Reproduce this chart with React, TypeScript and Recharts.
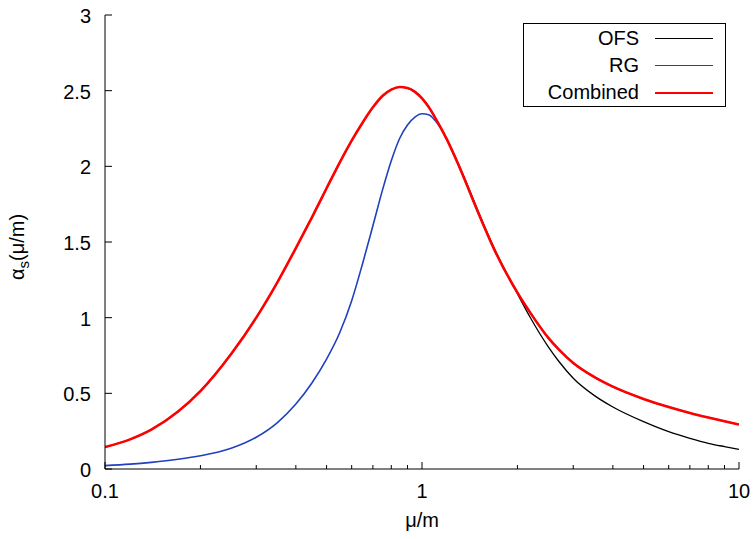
import { Line, LineChart, XAxis, YAxis } from "recharts"

// μ/m sample points (log axis)
const mu = [
  0.1, 0.12, 0.14, 0.17, 0.2, 0.25, 0.3, 0.35, 0.4, 0.45, 0.5, 0.55, 0.6, 0.65,
  0.7, 0.75, 0.8, 0.85, 0.9, 0.95, 1.0, 1.05, 1.1, 1.2, 1.3, 1.4, 1.5, 1.7, 2.0,
  2.2, 2.5, 2.7, 3, 3.5, 4, 5, 6, 7, 8, 9, 10,
]
const combined = [
  0.145, 0.196, 0.26, 0.38, 0.515, 0.76, 1.0, 1.235, 1.46, 1.665, 1.855, 2.025, 2.17, 2.29,
  2.39, 2.465, 2.507, 2.524, 2.517, 2.492, 2.449, 2.392, 2.322, 2.175, 2.015, 1.854, 1.7, 1.44, 1.165,
  1.03, 0.868, 0.79, 0.7, 0.607, 0.544, 0.463, 0.409, 0.37, 0.34, 0.315, 0.294,
]
const ofs = [
  0.145, 0.196, 0.26, 0.38, 0.515, 0.76, 1.0, 1.235, 1.46, 1.665, 1.855, 2.025, 2.17, 2.29,
  2.39, 2.465, 2.507, 2.524, 2.517, 2.492, 2.449, 2.392, 2.322, 2.175, 2.02, 1.862, 1.708, 1.446, 1.158,
  0.998, 0.809, 0.712, 0.6, 0.485, 0.41, 0.313, 0.247, 0.203, 0.17, 0.148, 0.13,
]
const rg = [
  0.022, 0.032, 0.044, 0.064, 0.087, 0.137, 0.21, 0.307, 0.429, 0.57, 0.726, 0.9, 1.112, 1.36,
  1.607, 1.841, 2.037, 2.184, 2.273, 2.325, 2.347, 2.341, 2.303, 2.175, 2.015, 1.854, 1.7, 1.44, 1.165,
  1.03, 0.868, 0.79, 0.7, 0.607, 0.544, 0.463, 0.409, 0.37, 0.34, 0.315, 0.294,
]

const xTicks = [0.1, 0.2, 0.3, 0.4, 0.5, 0.6, 0.7, 0.8, 0.9, 1, 2, 3, 4, 5, 6, 7, 8, 9, 10]
const xMajor = [0.1, 1, 10]
const yTicks = [0, 0.5, 1, 1.5, 2, 2.5, 3]

const series = [
  { key: "ofs", name: "OFS", color: "#000000", width: 1.3 },
  { key: "rg", name: "RG", color: "#1f40bf", width: 1.6 },
  { key: "combined", name: "Combined", color: "#ff0000", width: 2.6 },
]

const data = mu.map((m, i) => ({ mu: m, ofs: ofs[i], rg: rg[i], combined: combined[i] }))

const FONT = "'Liberation Sans', Arial, Helvetica, sans-serif"

const BottomTick = (p: any) => {
  const major = xMajor.includes(p.payload.value)
  return (
    <g>
      <path d={`M${p.x},${p.y}v${major ? -7 : -4}`} stroke="#000" strokeWidth={1} fill="none" />
      {major && (
        <text x={p.x} y={p.y + 29} textAnchor="middle" fontSize={20} fontFamily={FONT} fill="#000">
          {p.payload.value}
        </text>
      )}
    </g>
  )
}
const TopTick = (p: any) => {
  const major = xMajor.includes(p.payload.value)
  return <path d={`M${p.x},${p.y}v${major ? 7 : 4}`} stroke="#000" strokeWidth={1} fill="none" />
}
const LeftTick = (p: any) => (
  <g>
    <path d={`M${p.x},${p.y}h7`} stroke="#000" strokeWidth={1} fill="none" />
    <text x={p.x - 14} y={p.y + 8} textAnchor="end" fontSize={20} fontFamily={FONT} fill="#000">
      {p.payload.value}
    </text>
  </g>
)
const RightTick = (p: any) => <path d={`M${p.x},${p.y}h-7`} stroke="#000" strokeWidth={1} fill="none" />

const XLabel = ({ viewBox }: any) => (
  <text x={viewBox.x + viewBox.width / 2} y={viewBox.y + 58} textAnchor="middle" fontSize={20} fontFamily={FONT} fill="#000">
    μ/m
  </text>
)
const YLabel = ({ viewBox }: any) => {
  const cx = viewBox.x - 21
  const cy = viewBox.y + viewBox.height / 2 + 5
  return (
    <text x={cx} y={cy} transform={`rotate(-90, ${cx}, ${cy})`} textAnchor="middle" fontSize={20} fontFamily={FONT} fill="#000">
      α<tspan dy={5} fontSize={15}>s</tspan>
      <tspan dy={-5}>(μ/m)</tspan>
    </text>
  )
}

export default function App() {
  return (
    <div style={{ position: "absolute", left: 0, top: 0, width: 755, height: 539, background: "#fff" }}>
      <LineChart width={755} height={539} data={data} margin={{ top: 15, right: 16, bottom: 20, left: 45 }}>
        <XAxis
          xAxisId="b" dataKey="mu" type="number" scale="log" domain={[0.1, 10]} allowDataOverflow
          ticks={xTicks} interval={0} tickSize={0} tickMargin={0} tickLine={false}
          tick={BottomTick} height={50} axisLine={{ stroke: "#000" }} label={{ content: XLabel }}
        />
        <XAxis
          xAxisId="t" dataKey="mu" orientation="top" type="number" scale="log" domain={[0.1, 10]} allowDataOverflow
          ticks={xTicks} interval={0} tickSize={0} tickMargin={0} tickLine={false}
          tick={TopTick} height={0} axisLine={{ stroke: "#000" }}
        />
        <YAxis
          yAxisId="l" type="number" domain={[0, 3]} ticks={yTicks} interval={0} tickSize={0} tickMargin={0}
          tickLine={false} tick={LeftTick} width={60} axisLine={{ stroke: "#000" }} label={{ content: YLabel }}
        />
        <YAxis
          yAxisId="r" orientation="right" type="number" domain={[0, 3]} ticks={yTicks} interval={0} tickSize={0}
          tickMargin={0} tickLine={false} tick={RightTick} width={0} axisLine={{ stroke: "#000" }}
        />
        {series.map((s) => (
          <Line
            key={s.key} xAxisId="b" yAxisId="l" type="monotone" dataKey={s.key} name={s.name}
            stroke={s.color} strokeWidth={s.width} dot={false} activeDot={false} isAnimationActive={false}
          />
        ))}
      </LineChart>
      <div
        style={{
          position: "absolute", left: 523, top: 23, width: 201, height: 82, border: "1px solid #000",
          fontFamily: FONT, fontSize: 20, background: "#fff",
        }}
      >
        {series.map((s, i) => (
          <div key={s.key} style={{ position: "absolute", top: 1 + i * 27, left: 0, height: 27, width: 201, display: "flex", alignItems: "center" }}>
            <span style={{ width: 115, textAlign: "right", lineHeight: "27px" }}>{s.name}</span>
            <span style={{ marginLeft: 16, width: 58, height: 0, borderTop: `${s.width}px solid ${s.color}` }} />
          </div>
        ))}
      </div>
    </div>
  )
}
